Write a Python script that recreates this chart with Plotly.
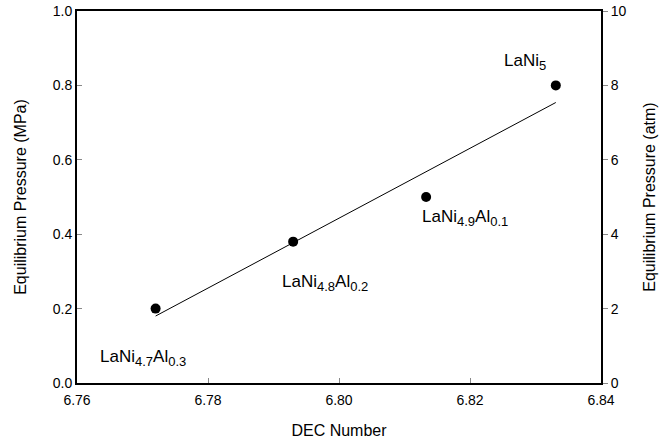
import plotly.graph_objects as go

# Hydride alloys: DEC number vs. equilibrium plateau pressure
dec = [6.772, 6.793, 6.8133, 6.8331]
pressure_mpa = [0.20, 0.38, 0.50, 0.80]
alloys = [("LaNi", "4.7", "Al", "0.3"), ("LaNi", "4.8", "Al", "0.2"),
          ("LaNi", "4.9", "Al", "0.1"), ("LaNi", "5", "", "")]
label_x = [6.7701, 6.7979, 6.8193, 6.8284]
label_y = [0.067, 0.269, 0.444, 0.863]

# Least-squares trend line end points
fit_x = [6.772, 6.8331]
fit_y = [0.180, 0.754]

x_ticks = [6.76, 6.78, 6.80, 6.82, 6.84]
y_ticks = [0.0, 0.2, 0.4, 0.6, 0.8, 1.0]
y2_ticks = [0, 2, 4, 6, 8, 10]

FONT = "Liberation Sans, Arial, sans-serif"


def formula(parts):
    out = ""
    for i, p in enumerate(parts):
        if not p:
            continue
        if i % 2:
            out += f'<sub><span style="font-size:13px">{p}</span></sub>'
        else:
            out += p
    return out


fig = go.Figure()
fig.add_trace(go.Scatter(x=fit_x, y=fit_y, mode="lines",
                         line=dict(color="black", width=1), showlegend=False))
fig.add_trace(go.Scatter(x=dec, y=pressure_mpa, mode="markers",
                         marker=dict(color="black", size=10), showlegend=False))
# invisible trace to activate the atm axis
fig.add_trace(go.Scatter(x=[None], y=[None], yaxis="y2", showlegend=False))

for x, y, parts in zip(label_x, label_y, alloys):
    fig.add_annotation(x=x, y=y, text=formula(parts), showarrow=False,
                       font=dict(family=FONT, size=17, color="black"))

fig.update_layout(
    width=669, height=439,
    margin=dict(l=77, r=68, t=11, b=56),
    paper_bgcolor="white", plot_bgcolor="white",
    font=dict(family=FONT, size=14, color="black"),
    xaxis=dict(range=[6.76, 6.84], tickvals=x_ticks,
               ticktext=[f"{v:.2f}" for v in x_ticks],
               showline=True, linecolor="black", linewidth=2, mirror=True,
               ticks="inside", ticklen=5, tickcolor="#888", tickwidth=1,
               ticklabelstandoff=3, automargin=False,
               showgrid=False, zeroline=False,
               title=dict(text="DEC Number", font=dict(size=16), standoff=22)),
    yaxis=dict(range=[0, 1.0], tickvals=y_ticks,
               ticktext=[f"{v:.1f}" for v in y_ticks],
               showline=True, linecolor="black", linewidth=2,
               ticks="inside", ticklen=5, tickcolor="#888", tickwidth=1,
               automargin=False,
               showgrid=False, zeroline=False,
               title=dict(text="Equilibrium Pressure (MPa)", font=dict(size=16), standoff=22)),
    yaxis2=dict(range=[0, 10], tickvals=y2_ticks, overlaying="y", side="right",
                showline=True, linecolor="black", linewidth=2,
                ticks="outside", ticklen=5, tickcolor="#888", tickwidth=1,
                automargin=False,
                showgrid=False, zeroline=False,
                title=dict(text="Equilibrium Pressure (atm)", font=dict(size=16), standoff=18)),
)

fig.write_html("out.html")
